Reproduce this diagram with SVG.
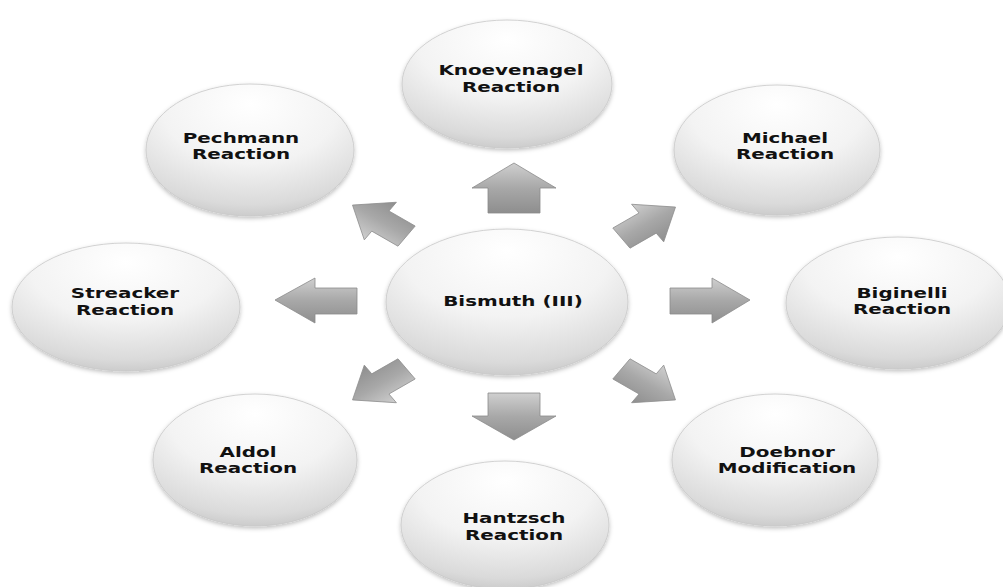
<svg xmlns="http://www.w3.org/2000/svg" width="1003" height="587" viewBox="0 0 1003 587">
<style>
.node ellipse{fill:url(#eg);stroke:#c8c8c8;stroke-width:0.8;filter:url(#sh)}
.node text{font-family:"DejaVu Sans",sans-serif;font-weight:bold;font-size:14px;fill:#111111;text-anchor:middle}
.arr{fill:url(#ag);stroke:#8c8c8c;stroke-width:0.8}
</style>
<defs>
<radialGradient id="eg" cx="0.5" cy="0.2" r="0.85" fx="0.5" fy="0.15">
<stop offset="0" stop-color="#ffffff"/>
<stop offset="0.5" stop-color="#f3f3f3"/>
<stop offset="0.85" stop-color="#dadada"/>
<stop offset="1" stop-color="#c4c4c4"/>
</radialGradient>
<linearGradient id="ag" x1="0" y1="0" x2="0" y2="1">
<stop offset="0" stop-color="#cfcfcf"/>
<stop offset="0.5" stop-color="#a8a8a8"/>
<stop offset="1" stop-color="#8e8e8e"/>
</linearGradient>
<filter id="sh" x="-10%" y="-10%" width="120%" height="125%">
<feDropShadow dx="0" dy="2" stdDeviation="2" flood-color="#000" flood-opacity="0.25"/>
</filter>
<polygon id="darrow" points="-30,-15 2,-15 2,-28 36,0 2,28 2,15 -30,15"/>
</defs>
<rect width="1003" height="587" fill="#ffffff"/>
<g id="connectors">
<polygon class="arr" points="514,163 556,188 540,188 540,213 488,213 488,188 472,188"/>
<polygon class="arr" points="488,393 540,393 540,416 556,416 514,440 472,416 488,416"/>
<polygon class="arr" points="670,288 712,288 712,278 750,300 712,323 712,314 670,314"/>
<polygon class="arr" points="357,288 315,288 315,278 275,300 315,323 315,314 357,314"/>
<use href="#darrow" class="arr" transform="translate(382,222) scale(1,0.82) rotate(-145)"/>
<use href="#darrow" class="arr" transform="translate(646,224) scale(1,0.82) rotate(-35)"/>
<use href="#darrow" class="arr" transform="translate(382,383) scale(1,0.82) rotate(145)"/>
<use href="#darrow" class="arr" transform="translate(646,383) scale(1,0.82) rotate(35)"/>
</g>
<g id="node-knoevenagel" class="node">
<ellipse cx="507" cy="84" rx="105" ry="64"/>
<text transform="translate(511,75) scale(1.42,1)">Knoevenagel</text>
<text transform="translate(511,92) scale(1.42,1)">Reaction</text>
</g>
<g id="node-michael" class="node">
<ellipse cx="777" cy="150" rx="103" ry="65"/>
<text transform="translate(785,143) scale(1.42,1)">Michael</text>
<text transform="translate(785,159) scale(1.42,1)">Reaction</text>
</g>
<g id="node-pechmann" class="node">
<ellipse cx="250" cy="150" rx="104" ry="66"/>
<text transform="translate(241,143) scale(1.42,1)">Pechmann</text>
<text transform="translate(241,159) scale(1.42,1)">Reaction</text>
</g>
<g id="node-streacker" class="node">
<ellipse cx="126" cy="307" rx="114" ry="64"/>
<text transform="translate(125,298) scale(1.42,1)">Streacker</text>
<text transform="translate(125,315) scale(1.42,1)">Reaction</text>
</g>
<g id="node-bismuth" class="node">
<ellipse cx="507" cy="302" rx="121" ry="73"/>
<text transform="translate(513,306) scale(1.42,1)">Bismuth (III)</text>
</g>
<g id="node-biginelli" class="node">
<ellipse cx="898" cy="303" rx="112" ry="66"/>
<text transform="translate(902,298) scale(1.42,1)">Biginelli</text>
<text transform="translate(902,314) scale(1.42,1)">Reaction</text>
</g>
<g id="node-aldol" class="node">
<ellipse cx="255" cy="460" rx="102" ry="66"/>
<text transform="translate(248,457) scale(1.42,1)">Aldol</text>
<text transform="translate(248,473) scale(1.42,1)">Reaction</text>
</g>
<g id="node-doebnor" class="node">
<ellipse cx="775" cy="460" rx="103" ry="66"/>
<text transform="translate(787,457) scale(1.42,1)">Doebnor</text>
<text transform="translate(787,473) scale(1.42,1)">Modification</text>
</g>
<g id="node-hantzsch" class="node">
<ellipse cx="505" cy="525" rx="104" ry="64"/>
<text transform="translate(514,523) scale(1.42,1)">Hantzsch</text>
<text transform="translate(514,540) scale(1.42,1)">Reaction</text>
</g>
</svg>
